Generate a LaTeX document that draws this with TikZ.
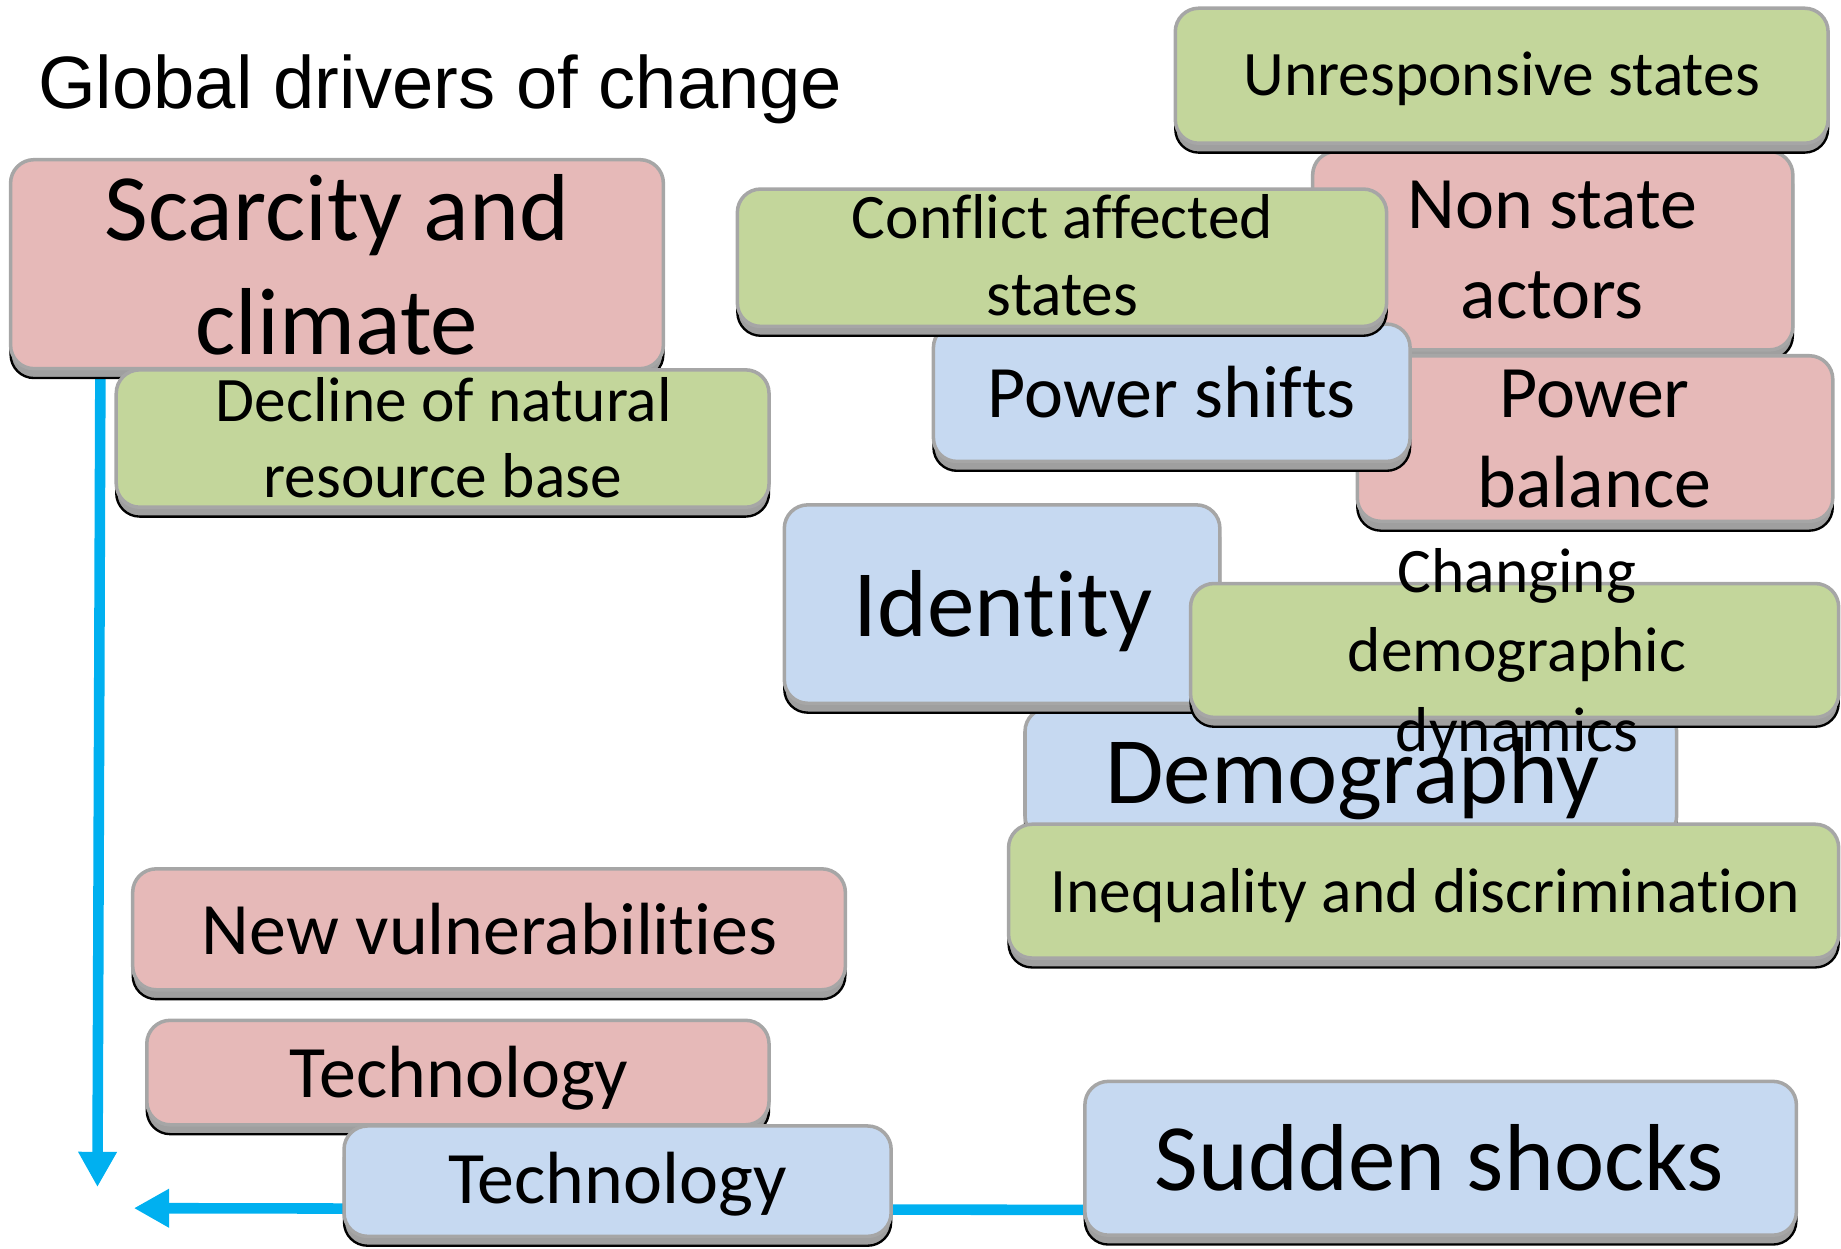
\documentclass[tikz,border=0pt]{standalone}
\usepackage{fontspec}
\setmainfont{Carlito}[Ligatures={NoCommon,NoContextual,NoRare},RawFeature={-liga;-clig;-dlig;-calt}]
\newfontfamily\titlefont{Liberation Sans}
\usetikzlibrary{arrows.meta}
\pgfdeclarelayer{bg}
\pgfsetlayers{bg,main}
\definecolor{pinkbox}{HTML}{E6B9B8}
\definecolor{greenbox}{HTML}{C3D69B}
\definecolor{bluebox}{HTML}{C6D9F1}
\definecolor{edgegray}{HTML}{A6A6A6}
\definecolor{flow}{HTML}{00B0F0}
\tikzset{
  dbox/.style={draw=edgegray, line width=1.5pt, rounded corners=10pt, inner sep=0pt,
    preaction={draw=black, line width=1pt, fill=gray!75, transform canvas={yshift=-4pt}}},
  fs/.style={font=\fontsize{27pt}{32pt}\selectfont, inner sep=0pt, anchor=base},
  fm/.style={font=\fontsize{31.5pt}{38pt}\selectfont, inner sep=0pt, anchor=base},
  fl/.style={font=\fontsize{40.5pt}{48pt}\selectfont, inner sep=0pt, anchor=base},
  flowline/.style={draw=flow, line width=4.5pt, -{Triangle[length=15pt,width=15.5pt]}}
}
\newcommand\dbox[6]{\node[dbox, fill=#6, minimum width={(#4-#2)*0.5pt}, minimum height={(#5-#3)*0.5pt}] (#1) at ({(#2+#4)/2},{(#3+#5)/2}) {};}
\begin{document}
\begin{tikzpicture}[x=0.5pt, y=-0.5pt]
\useasboundingbox (0,0) rectangle (1568,1063);
\node[font=\titlefont\fontsize{31.6pt}{38pt}\selectfont, anchor=base west, inner sep=0pt] (title) at (32,92) {Global drivers of change};
\coordinate (tipV) at (83,1011);
\coordinate (tipH) at (114,1029);
\dbox{sc}{9}{136}{565}{314}{pinkbox}
\node[fl] (sct1) at (287,205) {Scarcity and};
\node[fl] (sct2) at (287,302) {climate};
\dbox{dn}{99}{315}{655}{432}{greenbox}
\node[fs] (dnt1) at (378,359) {Decline of natural};
\node[fs] (dnt2) at (377,424) {resource base};
\dbox{ns}{1118}{129}{1527}{298}{pinkbox}
\node[fm] (nst1) at (1322,195) {Non state};
\node[fm] (nst2) at (1322,271) {actors};
\dbox{ur}{1001}{7}{1557}{122}{greenbox}
\node[fs] (urt) at (1279,81) {Unresponsive states};
\dbox{pb}{1156}{303}{1561}{444}{pinkbox}
\node[fm] (pbt1) at (1358,356) {Power};
\node[fm] (pbt2) at (1358,432) {balance};
\dbox{ps}{795}{276}{1201}{393}{bluebox}
\node[fm] (pst) at (998,356) {Power shifts};
\dbox{ca}{628}{161}{1181}{278}{greenbox}
\node[fs] (cat1) at (905,203) {Conflict affected};
\node[fs] (cat2) at (905,269) {states};
\dbox{dm}{873}{603}{1428}{715}{bluebox}
\node[fl] (dmt) at (1152,684) {Demography};
\dbox{id}{668}{430}{1039}{599}{bluebox}
\node[fl] (idt) at (854,542) {Identity};
\dbox{cd}{1014}{497}{1566}{611}{greenbox}
\node[fs] (cdt1) at (1292,505) {Changing};
\node[fs] (cdt2) at (1292,572) {demographic};
\node[fs] (cdt3) at (1292,640) {dynamics};
\dbox{iq}{859}{702}{1566}{816}{greenbox}
\node[fs] (iqt) at (1214,777) {Inequality and discrimination};
\dbox{nv}{113}{740}{720}{843}{pinkbox}
\node[fm] (nvt) at (417,813) {New vulnerabilities};
\dbox{tp}{125}{869}{655}{958}{pinkbox}
\node[fm] (tpt) at (391,935) {Technology};
\dbox{tb}{293}{959}{759}{1053}{bluebox}
\node[fm] (tbt) at (526,1025) {Technology};
\dbox{ss}{924}{921}{1530}{1052}{bluebox}
\node[fl] (sst) at (1226,1014) {Sudden shocks};
\begin{pgfonlayer}{bg}
\draw[flowline] ([xshift=39pt]sc.south west) -- (tipV);
\draw[flowline] ([yshift=11.5pt]ss.south west) -- (tipH);
\end{pgfonlayer}
\end{tikzpicture}
\end{document}
